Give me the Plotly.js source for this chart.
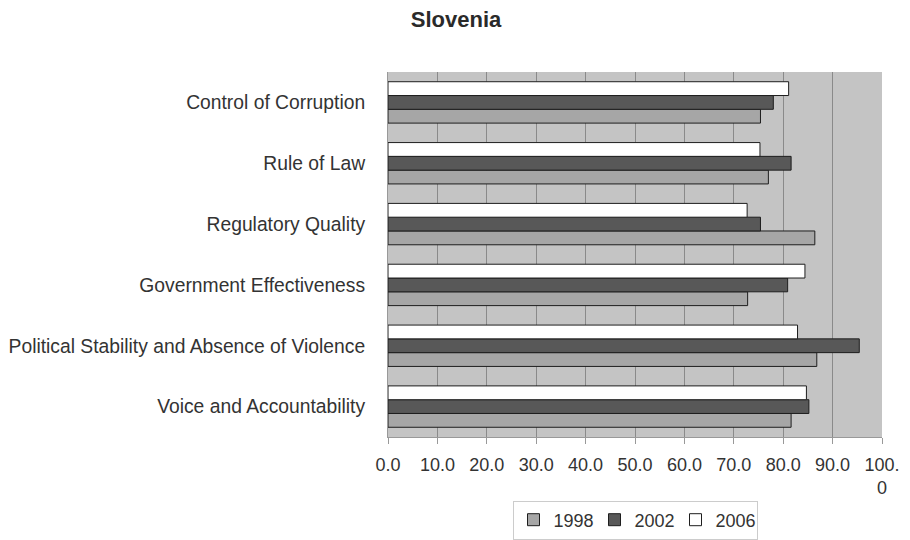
<!DOCTYPE html>
<html>
<head>
<meta charset="utf-8">
<script src="https://cdn.plot.ly/plotly-3.0.1.min.js"></script>
<style>html,body{margin:0;padding:0;background:#fff;}#chart{width:910px;height:540px;}</style>
</head>
<body>
<div id="chart"></div>
<script>
// Categories listed bottom to top
const categories = [
  "Voice and Accountability",
  "Political Stability and Absence of Violence",
  "Government Effectiveness",
  "Regulatory Quality",
  "Rule of Law",
  "Control of Corruption"
];
const values1998 = [81.6, 86.8, 72.8, 86.4, 77.0, 75.4];
const values2002 = [85.2, 95.4, 80.9, 75.4, 81.6, 78.0];
const values2006 = [84.7, 82.9, 84.4, 72.7, 75.3, 81.1];
const tickVals = [0, 10, 20, 30, 40, 50, 60, 70, 80, 90, 100];
const tickText = ["0.0", "10.0", "20.0", "30.0", "40.0", "50.0", "60.0", "70.0", "80.0", "90.0", "100.<br>0"];

const font = "Liberation Sans, Arial, sans-serif";
const line = {color: "#1e1e1e", width: 1};

const traces = [
  {type: "bar", orientation: "h", name: "1998", y: categories, x: values1998,
   marker: {color: "#a6a6a6", line: line}},
  {type: "bar", orientation: "h", name: "2002", y: categories, x: values2002,
   marker: {color: "#585858", line: line}},
  {type: "bar", orientation: "h", name: "2006", y: categories, x: values2006,
   marker: {color: "#ffffff", line: line}}
];

const layout = {
  width: 910, height: 540,
  margin: {l: 388, r: 28, t: 72, b: 103},
  paper_bgcolor: "#ffffff",
  plot_bgcolor: "#c4c4c4",
  font: {family: font, size: 18, color: "#333333"},
  title: {text: "<b>Slovenia</b>", font: {family: font, size: 22, color: "#2a2a2a"},
          xref: "container", x: 456 / 910, xanchor: "center",
          yref: "container", y: 1 - 19 / 540, yanchor: "middle"},
  barmode: "group",
  bargap: 0.32,
  bargroupgap: 0,
  xaxis: {range: [0, 100], tickvals: tickVals, ticktext: tickText,
          showgrid: true, gridcolor: "#8a8a8a", gridwidth: 1, zeroline: false,
          showline: true, linecolor: "#999999", linewidth: 1,
          ticks: "outside", ticklen: 6, tickcolor: "#999999", ticklabelstandoff: 5,
          tickfont: {family: font, size: 18, color: "#333333"}, fixedrange: true},
  yaxis: {type: "category", showgrid: false, zeroline: false,
          showline: true, linecolor: "#999999", linewidth: 1,
          ticks: "", ticklabelstandoff: 18,
          tickfont: {family: font, size: 19.3, color: "#333333"}, fixedrange: true},
  showlegend: true,
  legend: {orientation: "h", traceorder: "normal",
           xref: "paper", x: 0.5, xanchor: "center",
           yref: "container", y: 1 - 520 / 540, yanchor: "middle",
           bordercolor: "#cccccc", borderwidth: 1, bgcolor: "#ffffff",
           entrywidth: 36, entrywidthmode: "pixels",
           font: {family: font, size: 18, color: "#333333"},
           itemclick: false, itemdoubleclick: false}
};

Plotly.newPlot("chart", traces, layout, {displayModeBar: false, staticPlot: true});
</script>
</body>
</html>
